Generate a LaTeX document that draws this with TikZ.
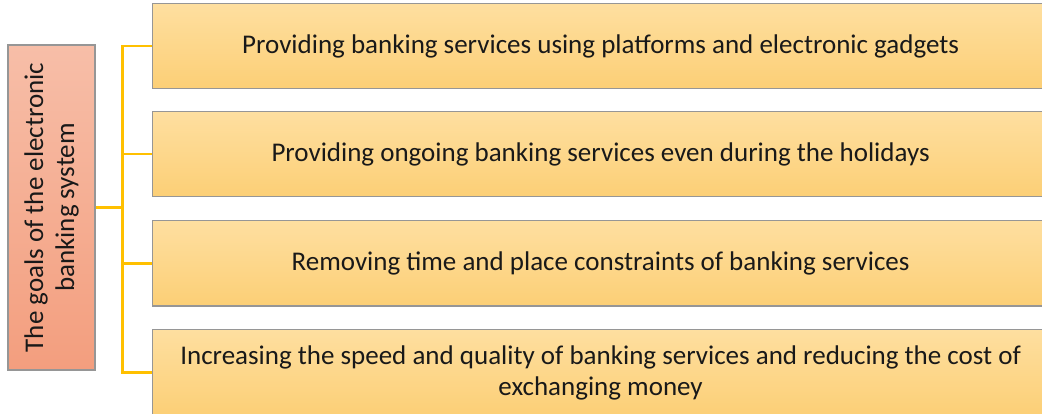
\documentclass[tikz,border=0pt]{standalone}
\usepackage{fontspec}
\setmainfont{Carlito}        % police proche de Calibri
\usepackage{tikz}
\usetikzlibrary{positioning}   % placement relatif des noeuds
\definecolor{goalA}{RGB}{247,190,168}
\definecolor{goalB}{RGB}{243,158,126}
\definecolor{itemA}{RGB}{254,223,160}
\definecolor{itemB}{RGB}{252,207,118}
\definecolor{lien}{RGB}{255,192,0}
\definecolor{bord}{RGB}{150,150,150}
\definecolor{texte}{RGB}{25,25,25}
\tikzset{
  goal/.style={draw=bord,line width=1.2pt,top color=goalA,bottom color=goalB,
    rotate=90,minimum width=325pt,minimum height=87pt,inner sep=0pt,
    align=center,text=texte,font=\fontsize{27}{31}\selectfont},
  item/.style={draw=bord,line width=1.2pt,top color=itemA,bottom color=itemB,
    anchor=west,minimum width=896pt,minimum height=85pt,inner sep=0pt,
    align=center,text=texte,font=\fontsize{27}{31}\selectfont},
  lien/.style={draw=lien,line width=2.6pt}
}

\begin{document}
\begin{tikzpicture}[x=1pt,y=-1pt]
\useasboundingbox(0,0)rectangle(1042,414);
\node[goal](goal)at(51.5,207.5){The goals of the electronic\\banking system};
\node[item](t1)at(152,46){Providing banking services using platforms and electronic gadgets};
\node[item,below=22pt of t1.south west,anchor=north west](t2){Providing ongoing banking services even during the holidays};
\node[item,below=23pt of t2.south west,anchor=north west](t3){Removing time and place constraints of banking services};
\node[item,below=22pt of t3.south west,anchor=north west,minimum height=87pt](t4){Increasing the speed and quality of banking services and reducing the cost of\\exchanging money};
\coordinate[right=27pt of goal.south](j);
\draw[lien](goal.south)--(j);
\foreach \i in {1,...,4}\draw[lien](j)|-(t\i.west);
\end{tikzpicture}
\end{document}
